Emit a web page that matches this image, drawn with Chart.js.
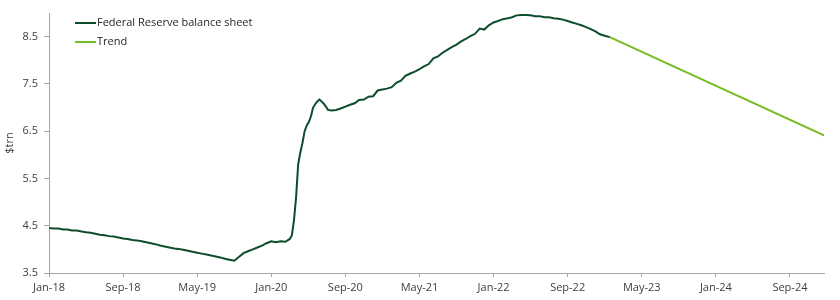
<!DOCTYPE html>
<html lang="en">
<head>
  <meta charset="UTF-8" />
  <title>Federal Reserve balance sheet</title>
  <script src="https://cdn.jsdelivr.net/npm/chart.js"></script>
  <style>
    html, body { margin: 0; padding: 0; background: #fff; }
    .chart-box { position: relative; width: 840px; height: 300px; }
  </style>
</head>
<body>
  <div class="chart-box">
    <canvas id="fedChart" width="840" height="300"></canvas>
  </div>

  <script>
    // data ($trn)
    const fedDates = [
      '2018-01-01','2018-01-16','2018-02-01','2018-02-16','2018-03-01','2018-03-16','2018-04-01','2018-04-16','2018-05-01','2018-05-16','2018-06-01','2018-06-16',
      '2018-07-01','2018-07-16','2018-08-01','2018-08-16','2018-09-01','2018-09-16','2018-10-01','2018-10-16','2018-11-01','2018-11-16','2018-12-01','2018-12-16',
      '2019-01-01','2019-01-16','2019-02-01','2019-02-16','2019-03-01','2019-03-16','2019-04-01','2019-04-16','2019-05-01','2019-05-16','2019-06-01','2019-06-16',
      '2019-07-01','2019-07-16','2019-08-01','2019-08-16','2019-09-01','2019-09-16','2019-10-01','2019-10-16','2019-11-01','2019-11-16','2019-12-01','2019-12-16',
      '2020-01-01','2020-01-16','2020-02-01','2020-02-16','2020-03-01','2020-03-08','2020-03-15','2020-03-22','2020-03-29','2020-04-05','2020-04-12','2020-04-19',
      '2020-04-26','2020-05-03','2020-05-10','2020-05-17','2020-05-24','2020-05-31','2020-06-07','2020-06-14','2020-06-21','2020-06-28','2020-07-05','2020-07-16',
      '2020-08-01','2020-08-16','2020-09-01','2020-09-16','2020-10-01','2020-10-16','2020-11-01','2020-11-16','2020-12-01','2020-12-16',
      '2021-01-01','2021-01-16','2021-02-01','2021-02-16','2021-03-01','2021-03-16','2021-04-01','2021-04-16','2021-05-01','2021-05-16','2021-06-01','2021-06-16',
      '2021-07-01','2021-07-16','2021-08-01','2021-08-16','2021-09-01','2021-09-16','2021-10-01','2021-10-16','2021-11-01','2021-11-16','2021-12-01','2021-12-16',
      '2022-01-01','2022-01-16','2022-02-01','2022-02-16','2022-03-01','2022-03-16','2022-04-01','2022-04-16','2022-05-01','2022-05-16','2022-06-01','2022-06-16',
      '2022-07-01','2022-07-16','2022-08-01','2022-08-16','2022-09-01','2022-09-16','2022-10-01','2022-10-16','2022-11-01','2022-11-16','2022-12-01','2022-12-16',
      '2023-01-01','2023-01-18'
    ];
    const fedValues = [
      4.45, 4.44, 4.44, 4.42, 4.42, 4.40, 4.40, 4.38, 4.36, 4.35, 4.33, 4.31,
      4.30, 4.28, 4.27, 4.25, 4.23, 4.22, 4.20, 4.19, 4.17, 4.15, 4.13, 4.11,
      4.08, 4.06, 4.04, 4.02, 4.01, 3.99, 3.97, 3.95, 3.93, 3.91, 3.89, 3.87,
      3.85, 3.83, 3.80, 3.78, 3.76, 3.84, 3.92, 3.96, 4.00, 4.04, 4.08, 4.13,
      4.17, 4.15, 4.17, 4.16, 4.22, 4.30, 4.62, 5.10, 5.80, 6.05, 6.25, 6.50,
      6.62, 6.70, 6.82, 7.00, 7.07, 7.13, 7.17, 7.13, 7.08, 7.02, 6.95, 6.94,
      6.95, 6.98, 7.02, 7.06, 7.09, 7.16, 7.17, 7.23, 7.24, 7.36,
      7.38, 7.40, 7.43, 7.53, 7.57, 7.67, 7.72, 7.76, 7.81, 7.87, 7.92, 8.04,
      8.08, 8.16, 8.22, 8.28, 8.33, 8.40, 8.45, 8.51, 8.56, 8.67, 8.65, 8.74,
      8.80, 8.83, 8.87, 8.89, 8.91, 8.95, 8.96, 8.96, 8.95, 8.93, 8.93, 8.91,
      8.91, 8.89, 8.88, 8.86, 8.83, 8.80, 8.77, 8.74, 8.70, 8.66, 8.61, 8.55,
      8.52, 8.49
    ];
    const trendDates = ['2023-01-18', '2024-12-22'];
    const trendValues = [8.49, 6.41];

    const xTickLabels = ['Jan-18','Sep-18','May-19','Jan-20','Sep-20','May-21','Jan-22','Sep-22','May-23','Jan-24','Sep-24'];
    const yTickLabels = ['3.5','4.5','5.5','6.5','7.5','8.5'];
    const axisStart = '2018-01-01';
    const axisEnd = '2024-12-22';

    const monthNames = ['Jan','Feb','Mar','Apr','May','Jun','Jul','Aug','Sep','Oct','Nov','Dec'];

    // months since Jan 2018
    function toMonths(s) {
      const [y, m, d] = s.split('-').map(Number);
      const dim = new Date(y, m, 0).getDate();
      return (y - 2018) * 12 + (m - 1) + (d - 1) / dim;
    }
    function labelToMonths(l) {
      const [mon, yy] = l.split('-');
      return (2000 + Number(yy) - 2018) * 12 + monthNames.indexOf(mon);
    }

    const axisColor = '#a6a6a6';
    const textColor = '#404040';
    const tickFont = { family: "'Open Sans', sans-serif", size: 11 };

    // legend sitting inside the plot, top-left
    const insideLegend = {
      id: 'insideLegend',
      afterDraw(chart) {
        const c = chart.ctx;
        c.save();
        c.font = "11px 'Open Sans', sans-serif";
        c.textBaseline = 'middle';
        chart.data.datasets.forEach((ds, i) => {
          const y = 23 + i * 19;
          c.strokeStyle = ds.borderColor;
          c.lineWidth = 2;
          c.beginPath();
          c.moveTo(75, y);
          c.lineTo(96, y);
          c.stroke();
          c.fillStyle = '#262626';
          c.fillText(ds.label, 97, y);
        });
        c.restore();
      }
    };

    new Chart(document.getElementById('fedChart'), {
      type: 'line',
      data: {
        datasets: [
          {
            label: 'Federal Reserve balance sheet',
            data: fedDates.map((d, i) => ({ x: toMonths(d), y: fedValues[i] })),
            borderColor: '#0e4d2c',
            borderWidth: 2,
            pointRadius: 0,
            tension: 0
          },
          {
            label: 'Trend',
            data: trendDates.map((d, i) => ({ x: toMonths(d), y: trendValues[i] })),
            borderColor: '#76bd22',
            borderWidth: 2,
            pointRadius: 0
          }
        ]
      },
      options: {
        responsive: false,
        animation: false,
        layout: { padding: { top: 13, right: 16, left: 0, bottom: 0 } },
        plugins: { legend: { display: false }, tooltip: { enabled: false } },
        scales: {
          x: {
            type: 'linear',
            min: toMonths(axisStart),
            max: toMonths(axisEnd),
            afterBuildTicks: s => { s.ticks = xTickLabels.map(l => ({ value: labelToMonths(l) })); },
            afterFit: s => { s.height = 27; },
            ticks: {
              callback: (v, i) => xTickLabels[i],
              color: textColor, font: tickFont, padding: 4,
              maxRotation: 0, autoSkip: false
            },
            grid: { drawOnChartArea: false, tickLength: 4, color: axisColor },
            border: { color: axisColor, width: 1 }
          },
          y: {
            min: 3.5,
            max: 9.0,
            afterBuildTicks: s => { s.ticks = yTickLabels.map(v => ({ value: parseFloat(v) })); },
            afterFit: s => { s.width = 49; },
            ticks: {
              callback: (v, i) => yTickLabels[i],
              color: textColor, font: tickFont, padding: 6
            },
            grid: { drawOnChartArea: false, tickLength: 5, color: axisColor },
            border: { color: axisColor, width: 1 },
            title: {
              display: true, text: '$trn', color: textColor, font: tickFont,
              padding: { top: 3, bottom: 0 }
            }
          }
        }
      },
      plugins: [insideLegend]
    });
  </script>
</body>
</html>
